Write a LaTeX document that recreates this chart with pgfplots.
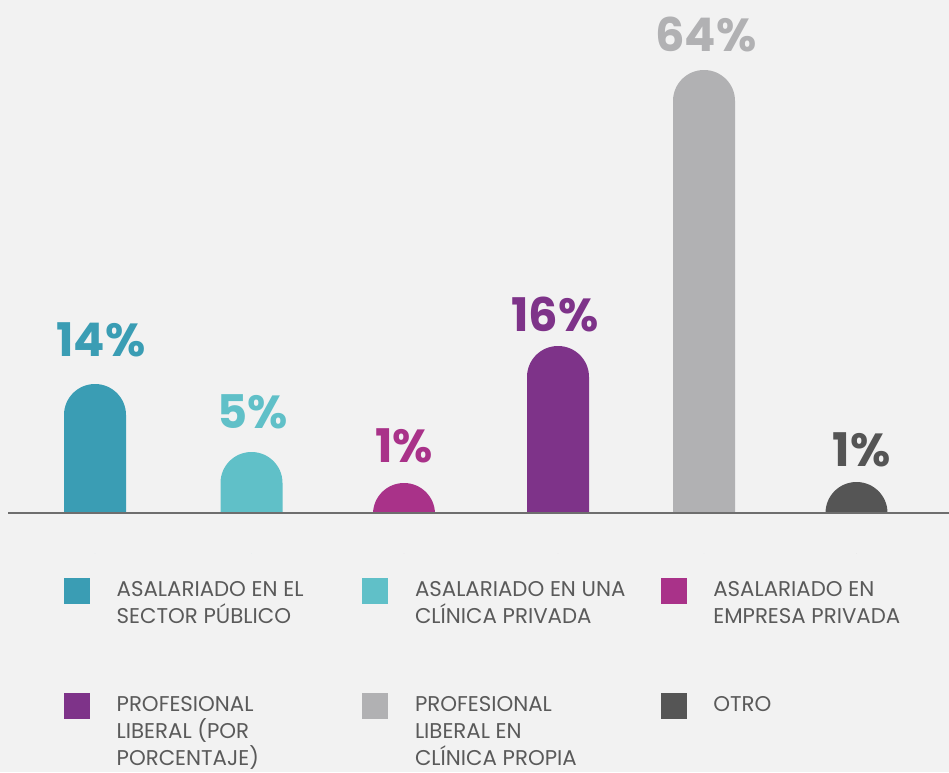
\documentclass[border=0pt]{standalone}
\usepackage{fontspec}
\setmainfont{Poppins}
\usepackage{pgfplots}
\pgfplotsset{compat=1.18}
\definecolor{c1}{HTML}{3A9DB4}
\definecolor{c2}{HTML}{60C0C8}
\definecolor{c3}{HTML}{A93289}
\definecolor{c4}{HTML}{7E3389}
\definecolor{c5}{HTML}{B1B1B3}
\definecolor{c6}{HTML}{555555}
\definecolor{legtext}{HTML}{5A5A5A}
\definecolor{axisline}{HTML}{6E6E6E}
\definecolor{bgcol}{HTML}{F2F2F2}
\newcommand{\lgtext}[1]{{\fontsize{16}{20.25}\selectfont\color{legtext}\parbox[t]{165pt}{\raggedright #1}}}
\begin{document}
\begin{tikzpicture}
\fill[bgcol] (-6pt,-194.25pt) rectangle (705.75pt,384.75pt);
\begin{axis}[
  at={(0pt,-30pt)}, anchor=south west,
  scale only axis, width=705.75pt, height=414.75pt,
  xmin=8, xmax=949, ymin=0, ymax=553,
  axis lines=none,
  xtick=\empty, ytick=\empty,
  mybar/.style={ybar, bar width=46.5pt, bar shift=0pt, draw=none, rounded corners=23.2pt,
    legend image code/.code={\fill[##1,/tikz/.cd,sharp corners] (0pt,-6pt) rectangle (19.5pt,13.5pt);}},
  point meta=explicit,
  nodes near coords={\pgfmathprintnumber{\pgfplotspointmeta}\%},
  every node near coord/.append style={font=\fontsize{34.75}{40}\selectfont\bfseries, anchor=south, inner sep=0pt},
  /pgf/number format/assume math mode=true,
  legend columns=3,
  legend style={at={(axis cs:64,-25)}, anchor=north west, draw=none, fill=none,
    inner sep=0pt, outer sep=0pt, row sep=66.75pt,
    cells={anchor=base west, inner sep=0pt, text depth=0pt},
    /tikz/every odd column/.style={column sep=18pt},
    /tikz/every even column/.style={column sep=17.25pt}},
]
% y = height of the bar top above the baseline (the visible axis line is at y = 40)
\addplot[mybar, fill=c1, every node near coord/.append style={text=c1, yshift=20.25pt, xshift=4.5pt}] coordinates {(95,169) [14]};
\addlegendentry{\lgtext{ASALARIADO EN EL\\SECTOR PÚBLICO}}
\addplot[mybar, fill=c2, every node near coord/.append style={text=c2, yshift=17.25pt, xshift=0.75pt}] coordinates {(251.5,101) [5]};
\addlegendentry{\lgtext{ASALARIADO EN UNA\\CLÍNICA PRIVADA}}
\addplot[mybar, fill=c3, every node near coord/.append style={text=c3, yshift=15pt, xshift=0pt}] coordinates {(404,70) [1]};
\addlegendentry{\lgtext{ASALARIADO EN\\EMPRESA PRIVADA}}
\addplot[mybar, fill=c4, every node near coord/.append style={text=c4, yshift=10.5pt, xshift=-2.25pt}] coordinates {(558,207) [16]};
\addlegendentry{\lgtext{PROFESIONAL\\LIBERAL (POR\\PORCENTAJE)}}
\addplot[mybar, fill=c5, every node near coord/.append style={text=c5, yshift=13.5pt, xshift=1.5pt}] coordinates {(704,483) [64]};
\addlegendentry{\lgtext{PROFESIONAL\\LIBERAL EN\\CLÍNICA PROPIA}}
\addplot[mybar, fill=c6, every node near coord/.append style={text=c6, yshift=11.25pt, xshift=4pt}] coordinates {(856.5,71) [1]};
\addlegendentry{\lgtext{OTRO}}
% hide the rounded bottoms below the baseline, then draw the baseline
\fill[bgcol] (axis cs:8,0) rectangle (axis cs:949,40);
\draw[axisline, line width=1.5pt] (axis cs:8,40) -- (axis cs:949,40);
\end{axis}
\end{tikzpicture}
\end{document}
